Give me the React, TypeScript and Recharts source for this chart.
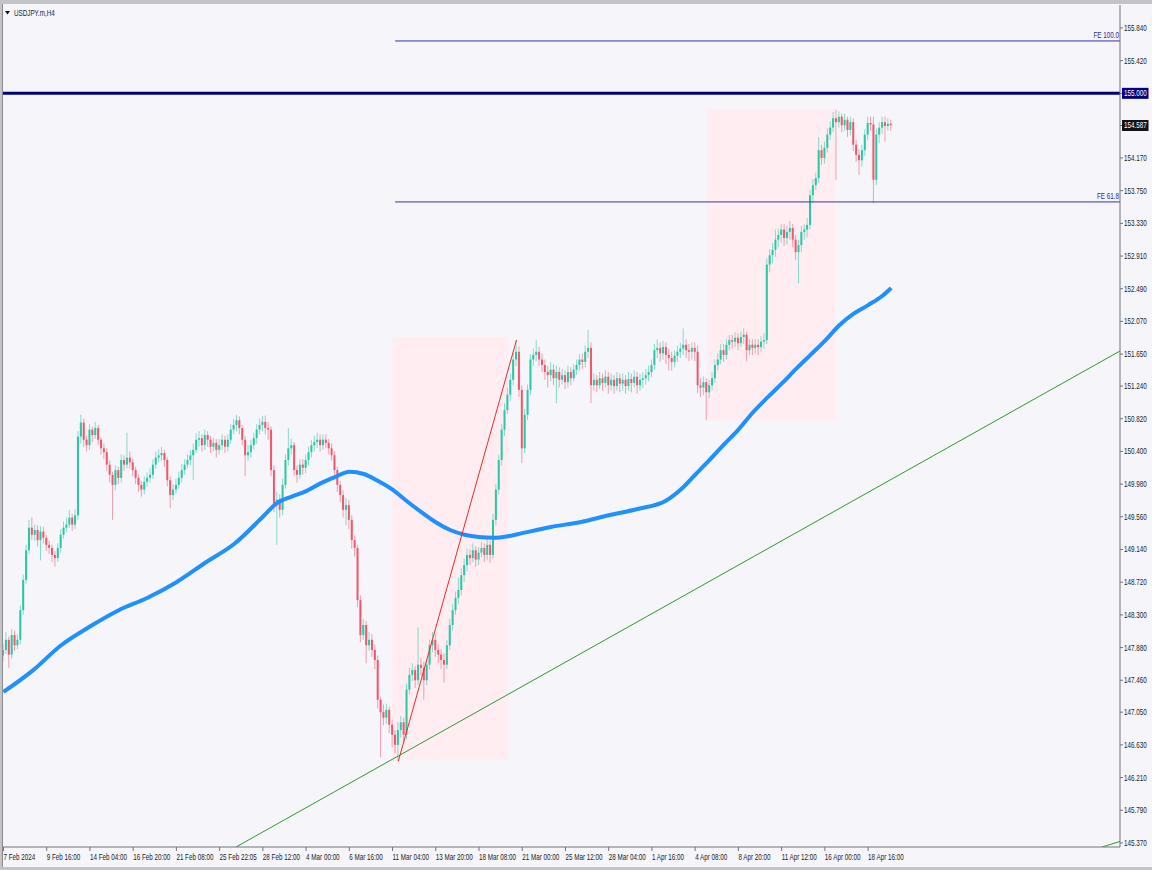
import React from "react";
import {
  ComposedChart,
  Bar,
  Line,
  XAxis,
  YAxis,
  ReferenceLine,
  ReferenceArea,
} from "recharts";

// H4 candles, open = previous close
const firstOpen = 147.78;
const closes = [
  147.85, 147.98, 147.79, 148.04, 147.91, 147.98, 148.36, 148.75, 149.13, 149.42,
  149.33, 149.39, 149.26, 149.37, 149.29, 149.2, 149.16, 149.07, 149.03, 149.16,
  149.33, 149.42, 149.46, 149.55, 149.46, 149.58, 150.59, 150.77, 150.55, 150.48,
  150.68, 150.61, 150.7, 150.55, 150.44, 150.39, 150.23, 150.1, 149.97, 150.16,
  150.06, 150.29, 150.23, 150.32, 150.26, 150.16, 150.06, 149.97, 149.91, 150.01,
  150.06, 150.1, 150.23, 150.32, 150.35, 150.38, 150.29, 150.03, 149.84, 149.91,
  149.97, 150.06, 150.16, 150.23, 150.29, 150.35, 150.42, 150.55, 150.57, 150.48,
  150.61, 150.55, 150.46, 150.51, 150.42, 150.48, 150.55, 150.46, 150.55, 150.68,
  150.74, 150.8, 150.7, 150.55, 150.35, 150.39, 150.48, 150.57, 150.68, 150.74,
  150.78, 150.7, 150.68, 150.16, 149.71, 149.78, 149.65, 149.97, 150.29, 150.44,
  150.48, 150.16, 150.1, 150.23, 150.19, 150.29, 150.39, 150.48, 150.52, 150.55,
  150.48, 150.55, 150.51, 150.44, 150.35, 150.16, 149.97, 149.84, 149.65, 149.71,
  149.52, 149.26, 149.16, 148.49, 148.04, 148.17, 147.91, 147.98, 147.85, 147.72,
  147.21, 147.05, 146.98, 147.08, 146.89, 146.76, 146.63, 146.82, 146.92, 146.76,
  147.34, 147.53, 147.59, 147.46, 147.66, 147.62, 147.46, 147.66, 147.91, 147.98,
  147.85, 147.79, 147.72, 147.66, 147.91, 148.17, 148.36, 148.52, 148.62, 148.81,
  148.94, 149.07, 149.03, 149.13, 149.01, 149.1, 149.16, 149.07, 149.2, 149.07,
  149.52, 149.91, 150.29, 150.68, 150.93, 151.13, 151.32, 151.58, 151.68, 151.19,
  150.44, 150.87, 151.19, 151.58, 151.64, 151.68, 151.58, 151.51, 151.42, 151.38,
  151.45, 151.34, 151.42, 151.32, 151.38, 151.29, 151.42, 151.34, 151.45, 151.51,
  151.58, 151.55, 151.68, 151.73, 151.25, 151.32, 151.25, 151.34, 151.28, 151.36,
  151.25, 151.32, 151.24, 151.34, 151.27, 151.32, 151.24, 151.33, 151.28, 151.36,
  151.25, 151.32, 151.34, 151.38, 151.42, 151.51, 151.7, 151.73, 151.66, 151.74,
  151.64, 151.6, 151.55, 151.63, 151.68, 151.72, 151.77, 151.7, 151.68, 151.73,
  151.68, 151.25, 151.22, 151.29, 151.16, 151.25, 151.34, 151.51, 151.58, 151.7,
  151.64, 151.77, 151.83, 151.81, 151.86, 151.79, 151.87, 151.9, 151.7, 151.77,
  151.73, 151.77, 151.74, 151.81, 151.83, 152.8, 152.92, 152.99, 153.12, 153.18,
  153.25, 153.14, 153.22, 153.27, 153.12, 152.96, 153.05, 153.22, 153.25, 153.31,
  153.69, 153.82, 153.91, 154.27, 154.17, 154.3, 154.47, 154.56, 154.68, 154.63,
  154.7, 154.59, 154.66, 154.53, 154.63, 154.34, 154.21, 154.14, 154.27, 154.47,
  154.62, 154.6, 153.89, 154.47, 154.56, 154.63, 154.58, 154.61, 154.59,
];
const highs = [
  147.93, 148.08, 148.02, 148.12, 148.1, 148.05, 148.42, 148.82, 149.2, 149.52,
  149.55, 149.46, 149.45, 149.44, 149.43, 149.33, 149.25, 149.2, 149.12, 149.22,
  149.4, 149.5, 149.55, 149.65, 149.6, 149.66, 150.66, 150.87, 150.82, 150.6,
  150.75, 150.72, 150.78, 150.74, 150.58, 150.5, 150.44, 150.28, 150.14, 150.22,
  150.2, 150.36, 150.35, 150.64, 150.4, 150.3, 150.2, 150.1, 150.02, 150.08,
  150.13, 150.18, 150.3, 150.4, 150.43, 150.46, 150.42, 150.32, 150.08, 149.98,
  150.05, 150.14, 150.24, 150.3, 150.36, 150.42, 150.5, 150.63, 150.66, 150.62,
  150.68, 150.66, 150.6, 150.58, 150.56, 150.56, 150.62, 150.6, 150.62, 150.75,
  150.82, 150.87, 150.85, 150.74, 150.6, 150.48, 150.55, 150.64, 150.75, 150.82,
  150.85, 150.86, 150.78, 150.72, 150.22, 149.88, 149.85, 150.05, 150.36, 150.7,
  150.56, 150.52, 150.22, 150.3, 150.3, 150.36, 150.46, 150.55, 150.6, 150.64,
  150.62, 150.62, 150.62, 150.56, 150.5, 150.4, 150.2, 150.02, 149.9, 149.8,
  149.78, 149.58, 149.32, 149.2, 148.55, 148.25, 148.22, 148.08, 148.05, 147.92,
  147.78, 147.25, 147.15, 147.16, 147.12, 146.95, 146.82, 146.92, 147.0, 146.98,
  147.42, 147.62, 147.68, 147.64, 148.14, 147.75, 147.7, 147.74, 147.98, 148.08,
  148.05, 147.92, 147.86, 147.8, 147.98, 148.25, 148.44, 148.6, 148.78, 148.9,
  149.02, 149.15, 149.14, 149.22, 149.18, 149.17, 149.24, 149.22, 149.28, 149.25,
  149.6, 149.98, 150.36, 150.75, 151.02, 151.22, 151.4, 151.66, 151.83, 151.75,
  151.25, 150.95, 151.26, 151.65, 151.72, 151.83, 151.74, 151.66, 151.58, 151.5,
  151.55, 151.52, 151.5, 151.48, 151.46, 151.44, 151.5, 151.48, 151.52, 151.58,
  151.65, 151.66, 151.76, 151.96, 151.8, 151.4, 151.38, 151.42, 151.4, 151.44,
  151.42, 151.4, 151.38, 151.42, 151.4, 151.4, 151.38, 151.42, 151.4, 151.44,
  151.42, 151.4, 151.42, 151.46, 151.5, 151.58, 151.78, 151.84, 151.8, 151.82,
  151.8, 151.72, 151.68, 151.7, 151.76, 151.8, 151.98, 151.84, 151.78, 151.8,
  151.8, 151.76, 151.34, 151.36, 151.34, 151.32, 151.42, 151.58, 151.66, 151.78,
  151.78, 151.84, 151.9, 151.9, 151.93, 151.92, 151.94, 151.98, 151.94, 151.84,
  151.84, 151.84, 151.84, 151.88, 151.92, 152.88, 153.0, 153.08, 153.25, 153.26,
  153.32, 153.32, 153.3, 153.36, 153.32, 153.18, 153.12, 153.3, 153.32, 153.4,
  153.76, 153.9, 153.98, 154.44, 154.34, 154.38, 154.55, 154.64, 154.76, 154.79,
  154.77, 154.74, 154.74, 154.7, 154.7, 154.68, 154.4, 154.28, 154.34, 154.54,
  154.7, 154.7, 154.7, 154.55, 154.63, 154.7, 154.7, 154.68, 154.66,
];
const lows = [
  147.7, 147.8, 147.62, 147.74, 147.84, 147.86, 147.92, 148.3, 148.7, 149.08,
  149.26, 149.25, 149.18, 149.0, 149.22, 149.12, 149.08, 148.98, 148.92, 148.98,
  149.1, 149.28, 149.36, 149.42, 149.38, 149.4, 149.52, 150.5, 150.46, 150.4,
  150.42, 150.52, 150.56, 150.48, 150.36, 150.3, 150.15, 150.0, 149.52, 149.9,
  149.98, 150.0, 150.15, 150.18, 150.18, 150.08, 149.98, 149.88, 149.82, 149.85,
  149.95, 150.0, 150.05, 150.18, 150.26, 150.28, 150.2, 149.95, 149.67, 149.78,
  149.85, 149.92, 150.0, 150.1, 150.18, 150.22, 150.03, 150.38, 150.46, 150.4,
  150.42, 150.46, 150.38, 150.4, 150.32, 150.36, 150.42, 150.38, 150.4, 150.5,
  150.62, 150.66, 150.62, 150.48, 150.08, 150.28, 150.32, 150.42, 150.5, 150.62,
  150.66, 150.62, 150.55, 150.08, 149.62, 149.2, 149.55, 149.58, 149.92, 150.22,
  150.36, 150.08, 150.0, 150.05, 150.1, 150.12, 150.22, 150.32, 150.4, 150.44,
  150.4, 150.42, 150.44, 150.36, 150.28, 150.08, 149.88, 149.75, 149.55, 149.45,
  149.4, 149.15, 149.05, 148.4, 147.95, 147.98, 147.68, 147.84, 147.76, 147.6,
  147.1, 146.47, 146.88, 146.9, 146.78, 146.6, 146.52, 146.42, 146.72, 146.66,
  146.7, 147.28, 147.45, 147.36, 147.4, 147.52, 147.21, 147.4, 147.6, 147.82,
  147.76, 147.68, 147.6, 147.43, 147.6, 147.85, 148.1, 148.3, 148.44, 148.55,
  148.72, 148.86, 148.94, 148.98, 148.92, 148.94, 149.04, 148.98, 149.0, 148.97,
  149.02, 149.45, 149.85, 150.22, 150.6, 150.88, 151.05, 151.25, 151.5, 151.1,
  150.25, 150.38, 150.8, 151.12, 151.5, 151.56, 151.5, 151.42, 151.32, 151.22,
  151.3, 151.25, 151.02, 151.22, 151.26, 151.2, 151.22, 151.25, 151.3, 151.38,
  151.44, 151.46, 151.48, 151.6, 151.02, 151.18, 151.16, 151.2, 151.18, 151.22,
  151.14, 151.18, 151.14, 151.18, 151.16, 151.18, 151.14, 151.18, 151.16, 151.22,
  151.14, 151.18, 151.22, 151.26, 151.3, 151.36, 151.45, 151.6, 151.55, 151.58,
  151.52, 151.44, 151.44, 151.48, 151.55, 151.6, 151.64, 151.6, 151.56, 151.58,
  151.56, 151.15, 151.1, 151.12, 150.8, 151.08, 151.18, 151.28, 151.44, 151.52,
  151.55, 151.58, 151.7, 151.72, 151.74, 151.7, 151.74, 151.78, 151.56, 151.64,
  151.64, 151.66, 151.64, 151.68, 151.72, 151.78, 152.7, 152.82, 152.9, 153.02,
  153.08, 153.04, 153.06, 153.12, 153.02, 152.86, 152.56, 152.96, 153.12, 153.15,
  153.25, 153.6, 153.76, 153.85, 154.08, 154.1, 154.24, 154.4, 154.5, 153.89,
  154.56, 154.5, 154.52, 154.44, 154.46, 154.26, 154.12, 153.95, 154.06, 154.2,
  154.4, 154.52, 153.59, 153.82, 154.36, 154.48, 154.38, 154.52, 154.52,
];

// moving average, read at sampled bars
const maIdx = [
  0, 10, 20, 30, 40, 50, 60, 70, 80, 90, 95, 100, 105, 110, 115, 120, 125, 130,
  135, 140, 145, 150, 155, 160, 165, 170, 175, 180, 185, 190, 200, 210, 220, 230,
  235, 240, 245, 250, 255, 260, 265, 270, 275, 280, 285, 290, 295, 300, 305, 308,
];
const maVals = [
  147.31, 147.58, 147.91, 148.15, 148.36, 148.52, 148.72, 148.97, 149.21, 149.56,
  149.74, 149.82, 149.89, 149.99, 150.07, 150.14, 150.11, 150.02, 149.91, 149.76,
  149.62, 149.49, 149.39, 149.33, 149.3, 149.29, 149.31, 149.35, 149.39, 149.43,
  149.49, 149.58, 149.66, 149.77, 149.91, 150.1, 150.29, 150.49, 150.68, 150.9,
  151.09, 151.27, 151.46, 151.64, 151.82, 152.02, 152.17, 152.28, 152.4, 152.5,
];

const timeTicks = [0, 15, 30, 45, 60, 75, 90, 105, 120, 135, 150, 165, 180, 195, 210, 225, 240, 255, 270, 285, 300];
const timeLabels = [
  "7 Feb 2024", "9 Feb 16:00", "14 Feb 04:00", "16 Feb 20:00", "21 Feb 08:00",
  "25 Feb 22:05", "28 Feb 12:00", "4 Mar 00:00", "6 Mar 16:00", "11 Mar 04:00",
  "13 Mar 20:00", "18 Mar 08:00", "21 Mar 00:00", "25 Mar 12:00", "28 Mar 04:00",
  "1 Apr 16:00", "4 Apr 08:00", "8 Apr 20:00", "11 Apr 12:00", "16 Apr 00:00",
  "18 Apr 16:00",
];
const priceTicks = [
  145.37, 145.79, 146.21, 146.63, 147.05, 147.46, 147.88, 148.3, 148.72, 149.14,
  149.56, 149.98, 150.4, 150.82, 151.24, 151.65, 152.07, 152.49, 152.91, 153.33,
  153.75, 154.17, 154.587, 155.0, 155.42, 155.84,
];

const levelLine = 155.0;
const lastPrice = 154.587;
const fe100 = 155.673;
const fe618 = 153.605;
const feFrom = 135.9;

const FONT = "'Liberation Sans', Arial, sans-serif";
const SQX = 0.74;
const INK = "#1c1c24";
const AXIS = "#72727e";
const NAVY = "#000080";
const BULL = "#27c8a4";
const BEAR = "#f2566a";

const maMap = new Map(maIdx.map((k, j) => [k, maVals[j]]));
const rows = closes.map((c, i) => ({
  i,
  o: i === 0 ? firstOpen : closes[i - 1],
  c,
  h: highs[i],
  l: lows[i],
  range: [lows[i], highs[i]],
  ma: maMap.has(i) ? maMap.get(i) : null,
}));

function Candle(props: any) {
  const { x, y, width, height, payload } = props;
  if (!payload || height == null) return null;
  const { o, c, h, l } = payload;
  const k = h > l ? height / (h - l) : 0;
  const top = y + (h - Math.max(o, c)) * k;
  const bot = y + (h - Math.min(o, c)) * k;
  const cx = x + width / 2;
  const col = c >= o ? BULL : BEAR;
  return (
    <g>
      <line x1={cx} x2={cx} y1={y} y2={y + height} stroke={col} strokeOpacity={0.55} strokeWidth={1} />
      <rect x={x} y={top} width={width} height={Math.max(1, bot - top)} fill={col} />
    </g>
  );
}

function PriceTick(props: any) {
  const { x, y, payload } = props;
  const v = payload.value;
  const box = v === levelLine ? NAVY : v === lastPrice ? "#111118" : null;
  return (
    <g>
      {box && <rect x={x - 2} y={y - 5.5} width={26.5} height={11} fill={box} />}
      <text
        transform={`translate(${x},${y + 3}) scale(${SQX},1)`}
        fontSize={8.5}
        fontFamily={FONT}
        fill={box ? "#fff" : INK}
      >
        {Number(v).toFixed(3)}
      </text>
    </g>
  );
}

function TimeTick(props: any) {
  const { x, y, payload } = props;
  const k = timeTicks.indexOf(payload.value);
  return (
    <text
      transform={`translate(${x},${y + 6.5}) scale(${SQX},1)`}
      fontSize={8.5}
      fontFamily={FONT}
      fill={INK}
    >
      {timeLabels[k]}
    </text>
  );
}

const feLabel = (text: string) => (props: any) => {
  const vb = props.viewBox || {};
  const right = vb.x1 != null ? Math.max(vb.x1, vb.x2) : vb.x + vb.width;
  const y = vb.y1 != null ? vb.y1 : vb.y;
  return (
    <text
      transform={`translate(${right - 1},${y - 3}) scale(${SQX},1)`}
      textAnchor="end"
      fontSize={8.5}
      fontFamily={FONT}
      fill="#2a2a9a"
    >
      {text}
    </text>
  );
};

export default function App() {
  return (
    <div
      style={{
        position: "relative",
        width: 1152,
        height: 870,
        background: "#f5f5fa",
        overflow: "hidden",
      }}
    >
      <style>{"body{margin:0}"}</style>
      <div style={{ position: "absolute", left: 0, top: 0, width: 1152, height: 4, background: "#c4c4c8" }} />
      <div style={{ position: "absolute", left: 0, top: 0, width: 2, height: 870, background: "#c4c4c8" }} />
      <div style={{ position: "absolute", left: 2, top: 4, width: 1, height: 863, background: "#8a8a90" }} />
      <div style={{ position: "absolute", left: 0, top: 867, width: 1152, height: 3, background: "#c4c4c8" }} />

      <div style={{ position: "absolute", left: 0, top: 0 }}>
        <ComposedChart
          width={1152}
          height={870}
          data={rows}
          margin={{ top: 5, right: 0, bottom: 0, left: 3 }}
        >
          <XAxis
            dataKey="i"
            type="number"
            domain={[-0.16, 387.4]}
            allowDataOverflow
            ticks={timeTicks}
            interval={0}
            height={23}
            tickSize={4}
            tickMargin={2}
            axisLine={{ stroke: AXIS }}
            tickLine={{ stroke: AXIS }}
            tick={(p: any) => <TimeTick {...p} />}
          />
          <YAxis
            orientation="right"
            type="number"
            domain={[145.318, 156.135]}
            allowDataOverflow
            ticks={priceTicks}
            interval={0}
            width={32}
            tickSize={3}
            tickMargin={1}
            axisLine={{ stroke: AXIS }}
            tickLine={{ stroke: AXIS }}
            tick={(p: any) => <PriceTick {...p} />}
          />
          <ReferenceArea x1={134.9} x2={175.2} y1={146.44} y2={151.87} fill="#ffedf2" fillOpacity={1} stroke="none" />
          <ReferenceArea x1={244.1} x2={288.5} y1={150.8} y2={154.8} fill="#ffedf2" fillOpacity={1} stroke="none" />
          <Bar dataKey="range" barSize={2} shape={Candle} isAnimationActive={false} />
          <Line
            dataKey="ma"
            type="monotone"
            stroke="#1e90ff"
            strokeWidth={4}
            dot={false}
            connectNulls
            isAnimationActive={false}
          />
          <ReferenceLine y={levelLine} stroke={NAVY} strokeWidth={3} />
          <ReferenceLine
            segment={[{ x: feFrom, y: fe100 }, { x: 387.4, y: fe100 }]}
            stroke="#3434a4"
            strokeWidth={1}
            label={feLabel("FE 100.0")}
          />
          <ReferenceLine
            segment={[{ x: feFrom, y: fe618 }, { x: 387.4, y: fe618 }]}
            stroke="#3434a4"
            strokeWidth={1}
            label={feLabel("FE 61.8")}
          />
          <ReferenceLine
            segment={[{ x: 137, y: 146.42 }, { x: 178, y: 151.83 }]}
            stroke="#f02828"
            strokeWidth={1}
          />
          <ReferenceLine
            segment={[{ x: 80.7, y: 145.318 }, { x: 387.4, y: 151.69 }]}
            stroke="#2f9a2f"
            strokeWidth={1}
            ifOverflow="hidden"
          />
          <ReferenceLine
            segment={[{ x: 381.2, y: 145.318 }, { x: 387.4, y: 145.39 }]}
            stroke="#2f9a2f"
            strokeWidth={1}
            ifOverflow="hidden"
          />
        </ComposedChart>
      </div>

      <svg
        width={80}
        height={20}
        style={{ position: "absolute", left: 0, top: 0, pointerEvents: "none" }}
      >
        <polygon points="5,11 10,11 7.5,14.5" fill="#111" />
        <text
          transform={`translate(14,15.5) scale(${SQX},1)`}
          fontSize={8.5}
          fontFamily={FONT}
          fill={INK}
        >
          USDJPY.m,H4
        </text>
      </svg>
    </div>
  );
}
